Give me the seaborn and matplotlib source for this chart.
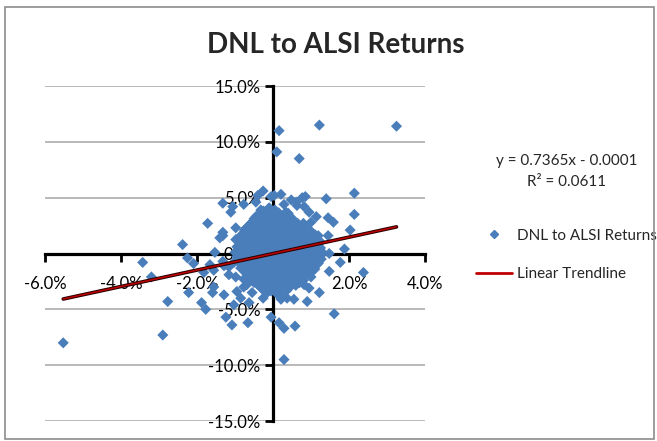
import numpy as np
import pandas as pd
import matplotlib
matplotlib.use('Agg')
import matplotlib.pyplot as plt
import seaborn as sns
from matplotlib.lines import Line2D
from matplotlib.patches import Rectangle

# daily returns in percent, ALSI (x) vs DNL (y) - dense core of the cloud
alsi_core = [-0.25, 0.05, -0.10,
             -0.45, -0.20, 0.00, 0.20, 0.40,
             -0.55, -0.35, -0.15, 0.05, 0.25, 0.45, 0.65,
             -0.70, -0.50, -0.30, -0.10, 0.10, 0.30, 0.50, 0.70, 0.85,
             -0.75, -0.55, -0.35, -0.15, 0.05, 0.25, 0.45, 0.65, 0.85, 1.00,
             -0.80, -0.60, -0.40, -0.20, 0.00, 0.20, 0.40, 0.60, 0.80, 1.00, 1.15,
             -0.85, -0.65, -0.45, -0.25, -0.05, 0.15, 0.35, 0.55, 0.75, 0.95, 1.15,
             -0.90, -0.70, -0.50, -0.30, -0.10, 0.10, 0.30, 0.50, 0.70, 0.90, 1.10, 1.25,
             -0.90, -0.70, -0.50, -0.30, -0.10, 0.10, 0.30, 0.50, 0.70, 0.90, 1.10, 1.25,
             -0.85, -0.65, -0.45, -0.25, -0.05, 0.15, 0.35, 0.55, 0.75, 0.95, 1.15,
             -0.80, -0.60, -0.40, -0.20, 0.00, 0.20, 0.40, 0.60, 0.80, 1.00, 1.15,
             -0.75, -0.55, -0.35, -0.15, 0.05, 0.25, 0.45, 0.65, 0.85, 1.00,
             -0.65, -0.45, -0.25, -0.05, 0.15, 0.35, 0.55, 0.75,
             -0.50, -0.30, -0.10, 0.10, 0.30, 0.50, 0.70,
             -0.30, -0.10, 0.10, 0.30, 0.45,
             -0.15, 0.10, 0.25]
dnl_core = [3.8, 3.9, 4.1,
            3.3, 3.5, 3.4, 3.3, 3.6,
            2.8, 3.0, 2.9, 2.8, 3.0, 2.9, 2.7,
            2.3, 2.5, 2.4, 2.35, 2.5, 2.4, 2.3, 2.45, 2.3,
            1.9, 1.85, 2.0, 1.9, 1.95, 1.85, 2.0, 1.9, 1.8, 1.95,
            1.4, 1.35, 1.45, 1.4, 1.3, 1.45, 1.4, 1.35, 1.45, 1.3, 1.2,
            0.9, 0.95, 0.85, 0.9, 0.95, 0.85, 0.9, 0.95, 0.85, 0.9, 0.8,
            0.4, 0.35, 0.45, 0.4, 0.3, 0.45, 0.4, 0.35, 0.45, 0.4, 0.35, 0.5,
            -0.1, -0.05, -0.15, -0.1, 0.0, -0.1, -0.15, -0.05, -0.1, -0.15, -0.05, -0.2,
            -0.6, -0.55, -0.65, -0.6, -0.5, -0.65, -0.6, -0.55, -0.65, -0.6, -0.55,
            -1.1, -1.05, -1.15, -1.1, -1.0, -1.15, -1.1, -1.05, -1.15, -1.1, -1.0,
            -1.6, -1.55, -1.65, -1.6, -1.5, -1.65, -1.6, -1.55, -1.6, -1.7,
            -2.1, -2.05, -2.15, -2.1, -2.0, -2.15, -2.1, -2.05,
            -2.6, -2.55, -2.65, -2.6, -2.5, -2.65, -2.6,
            -3.1, -3.05, -3.15, -3.1, -3.0,
            -3.5, -3.6, -3.45]

# more days inside the core, between the rows above
alsi_core2 = [-0.35, -0.05, 0.15,
              -0.50, -0.30, -0.10, 0.10, 0.30, 0.50,
              -0.60, -0.40, -0.20, 0.00, 0.20, 0.40, 0.60, 0.80,
              -0.75, -0.60, -0.40, -0.20, 0.00, 0.20, 0.40, 0.60, 0.80, 0.95,
              -0.85, -0.65, -0.45, -0.25, -0.05, 0.15, 0.35, 0.55, 0.75, 0.95, 1.10,
              -0.90, -0.70, -0.50, -0.30, -0.10, 0.10, 0.30, 0.50, 0.70, 0.90, 1.10, 1.25,
              -0.95, -0.75, -0.55, -0.35, -0.15, 0.05, 0.25, 0.45, 0.65, 0.85, 1.05, 1.20,
              -1.00, -0.80, -0.60, -0.40, -0.20, 0.00, 0.20, 0.40, 0.60, 0.80, 1.00, 1.20, 1.30,
              -0.95, -0.80, -0.60, -0.40, -0.20, 0.00, 0.20, 0.40, 0.60, 0.80, 1.00, 1.20,
              -0.90, -0.75, -0.55, -0.35, -0.15, 0.05, 0.25, 0.45, 0.65, 0.85, 1.05, 1.20,
              -0.85, -0.70, -0.50, -0.30, -0.10, 0.10, 0.30, 0.50, 0.70, 0.90, 1.10,
              -0.70, -0.50, -0.30, -0.10, 0.10, 0.30, 0.50, 0.70, 0.90,
              -0.60, -0.40, -0.20, 0.00, 0.20, 0.40, 0.60, 0.80,
              -0.40, -0.20, 0.00, 0.20, 0.40, 0.60,
              -0.25, -0.05, 0.15, 0.35]
dnl_core2 = [3.6, 3.7, 3.65,
             3.1, 3.2, 3.15, 3.1, 3.2, 3.15,
             2.6, 2.7, 2.65, 2.6, 2.7, 2.65, 2.6, 2.7,
             2.1, 2.2, 2.15, 2.1, 2.2, 2.15, 2.1, 2.2, 2.1, 2.15,
             1.6, 1.7, 1.65, 1.6, 1.7, 1.65, 1.6, 1.7, 1.65, 1.6, 1.7,
             1.1, 1.2, 1.15, 1.1, 1.2, 1.15, 1.1, 1.2, 1.15, 1.1, 1.2, 1.05,
             0.6, 0.7, 0.65, 0.6, 0.7, 0.65, 0.6, 0.7, 0.65, 0.6, 0.7, 0.65,
             0.1, 0.2, 0.15, 0.1, 0.2, 0.15, 0.1, 0.2, 0.15, 0.1, 0.2, 0.15, 0.05,
             -0.3, -0.4, -0.35, -0.3, -0.4, -0.35, -0.3, -0.4, -0.35, -0.3, -0.4, -0.35,
             -0.8, -0.9, -0.85, -0.8, -0.9, -0.85, -0.8, -0.9, -0.85, -0.8, -0.9, -0.85,
             -1.3, -1.4, -1.35, -1.3, -1.4, -1.35, -1.3, -1.4, -1.35, -1.3, -1.4,
             -1.8, -1.9, -1.85, -1.8, -1.9, -1.85, -1.8, -1.9, -1.85,
             -2.3, -2.4, -2.35, -2.3, -2.4, -2.35, -2.3, -2.4,
             -2.8, -2.9, -2.85, -2.8, -2.9, -2.85,
             -3.3, -3.35, -3.3, -3.35]

# scattered points around the core
alsi_tail = [0.16, 0.10, 1.22, 3.25, 0.69, -0.26, -0.40, -0.05, 0.03, 0.21,
             0.77, 0.85, 1.40, 2.14, -1.32, -1.06, -1.11, -0.77, -0.45, -0.32,
             0.34, 0.48, 0.63, 0.29, 0.61, 0.82, 0.95, 1.14, 1.45, 2.14,
             1.59, 1.00, 2.03, 1.19, 1.45, 1.88, 1.27, 1.48, -1.72, -1.32,
             -1.40, -0.98, -1.32, -0.98, -0.77, -0.58, -2.38, -1.53, -2.25, -2.09,
             -1.66, -1.56, -1.29, -1.03, -1.16, -1.82, -1.32, -5.52, -2.90, -2.77,
             -3.43, -3.20, -2.22, -1.88, -1.77, -1.59, -1.56, -1.29, -1.24, -1.08,
             -0.66, -0.95, -0.77, -0.69, -0.55, -0.63, -0.05, -1.03, -0.85, -0.26,
             0.16, 0.29, 0.58, 0.29, 1.61, 1.22, 0.90, 0.82, 0.95, 0.37,
             0.55, 0.21, 1.00, 1.27, 1.77, 1.48, 2.38, -0.98, -1.16, -0.77]
dnl_tail = [11.0, 9.1, 11.5, 11.4, 8.5, 5.6, 5.2, 5.1, 5.2, 5.3,
            5.0, 5.1, 4.9, 5.4, 4.5, 4.2, 3.7, 4.4, 4.6, 3.9,
            3.7, 4.8, 4.3, 4.4, 4.6, 4.2, 3.7, 3.3, 3.2, 3.5,
            2.8, 2.8, 2.1, 1.6, 1.6, 0.4, 0.2, 0.0, 2.7, 1.6,
            1.4, 2.3, 1.9, 1.25, 1.7, 2.7, 0.8, 0.1, -0.4, -0.9,
            -1.0, -1.5, -1.1, -0.8, -1.9, -1.7, -0.7, -8.0, -7.3, -4.3,
            -0.8, -2.1, -3.5, -4.4, -5.0, -3.5, -3.0, -3.7, -5.7, -6.4,
            -6.2, -3.4, -2.3, -2.8, -3.5, -4.4, -5.7, -4.6, -4.0, -4.0,
            -6.2, -6.7, -6.5, -9.5, -5.4, -3.5, -4.3, -2.8, -3.1, -4.0,
            -4.1, -4.1, -2.1, -0.5, -0.8, -1.6, -1.7, -2.1, -1.2, -3.0]

# Excel linear trendline (fraction units)
trend_slope = 0.7365
trend_intercept = -0.0001

x_ticks = [-6, -4, -2, 0, 2, 4]
y_ticks = [-15, -10, -5, 0, 5, 10, 15]

sns.set_style('white')
plt.rcParams['font.family'] = ['Lato', 'DejaVu Sans']

df = pd.DataFrame({
    'alsi': np.array(alsi_core + alsi_core2 + alsi_tail) / 100,
    'dnl': np.array(dnl_core + dnl_core2 + dnl_tail) / 100,
})

fig, ax = plt.subplots(figsize=(6.57, 4.41), dpi=100)
fig.subplots_adjust(left=45/657, right=425/657, top=1-86/441, bottom=1-421/441)

point_col = '#4A7EBB'
sns.scatterplot(data=df, x='alsi', y='dnl', marker='D', s=32, color=point_col,
                edgecolor='none', linewidth=0, ax=ax, zorder=3, legend=False)

xs = np.array([df['alsi'].min(), df['alsi'].max()])
trend = pd.DataFrame({'x': xs, 'y': trend_slope * xs + trend_intercept})
sns.lineplot(data=trend, x='x', y='y', color='#2a0000', linewidth=2.6, ax=ax, zorder=4)
sns.lineplot(data=trend, x='x', y='y', color='#C00000', linewidth=1.1, ax=ax, zorder=5)

ax.set_xlim(-0.06, 0.04)
ax.set_ylim(-0.15, 0.15)
ax.set_xticks([t / 100 for t in x_ticks])
ax.set_yticks([t / 100 for t in y_ticks])
ax.set_xticklabels([f'{t:.1f}%' for t in x_ticks])
ax.set_yticklabels([f'{t:.1f}%' for t in y_ticks])
ax.set_xlabel('')
ax.set_ylabel('')

ax.yaxis.grid(True, color='#A6A6A6', linewidth=1.1)
ax.xaxis.grid(False)
ax.set_axisbelow(True)

for side in ['top', 'right']:
    ax.spines[side].set_visible(False)
ax.spines['left'].set_position(('data', 0))
ax.spines['bottom'].set_position(('data', 0))
for side in ['left', 'bottom']:
    ax.spines[side].set_linewidth(2.3)
    ax.spines[side].set_color('black')
    ax.spines[side].set_zorder(2)
ax.tick_params(axis='x', direction='out', length=6, width=2, pad=10,
               labelsize=12, colors='black', bottom=True)
ax.tick_params(axis='y', direction='out', length=6, width=2, pad=3,
               labelsize=12, colors='black', left=True)

fig.text(336/657, 1-45/441, 'DNL to ALSI Returns', ha='center', va='center',
         fontsize=20, fontweight='bold')
fig.text(567/657, 1-161/441, 'y = 0.7365x - 0.0001', ha='center', va='center', fontsize=11)
fig.text(567/657, 1-182/441, 'R² = 0.0611', ha='center', va='center', fontsize=11)

handles = [Line2D([], [], marker='D', color=point_col, linestyle='none', markersize=4),
           Line2D([], [], color='#C00000', linewidth=2)]
ax.legend(handles, ['DNL to ALSI Returns', 'Linear Trendline'],
          loc='center left', bbox_to_anchor=(462/657, 1-255/441),
          bbox_transform=fig.transFigure, frameon=False, fontsize=11,
          labelspacing=1.6, handlelength=2.4, handletextpad=0.3)

fig.patches.append(Rectangle((5/657, 2/441), 649/657, 432/441, transform=fig.transFigure,
                             fill=False, edgecolor='#8c8c8c', linewidth=1.2))

fig.savefig('out.png', dpi=100)
